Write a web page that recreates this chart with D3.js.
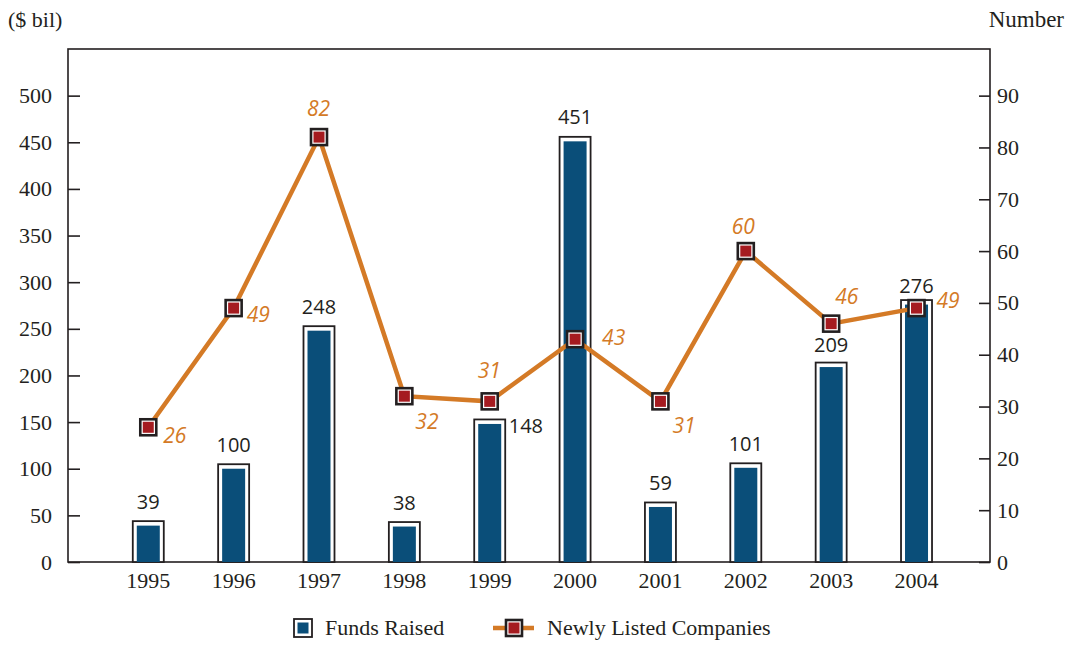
<!DOCTYPE html>
<html><head><meta charset="utf-8">
<script src="https://cdn.jsdelivr.net/npm/d3@7"></script>
<style>
html,body{margin:0;padding:0;background:#fff;}
svg{display:block;}
</style></head>
<body>
<svg id="chart" width="1069" height="645"></svg>
<script>
// ---- data ----
const years = ["1995","1996","1997","1998","1999","2000","2001","2002","2003","2004"];
const fundsRaised = [39, 100, 248, 38, 148, 451, 59, 101, 209, 276];
const newlyListed = [26, 49, 82, 32, 31, 43, 31, 60, 46, 49];
const leftTicks = [0, 50, 100, 150, 200, 250, 300, 350, 400, 450, 500];
const rightTicks = [0, 10, 20, 30, 40, 50, 60, 70, 80, 90];
const leftTitle = "($ bil)";
const rightTitle = "Number";
const seriesNames = ["Funds Raised", "Newly Listed Companies"];

// ---- layout (label placement offsets, px) ----
const barLabelLayout = [
  {a:"middle",dx:0,dy:-17},{a:"middle",dx:0,dy:-17},{a:"middle",dx:0,dy:-17},
  {a:"middle",dx:0,dy:-17},{a:"start",dx:19,dy:9},{a:"middle",dx:0,dy:-17},
  {a:"middle",dx:0,dy:-17},{a:"middle",dx:0,dy:-17},{a:"middle",dx:0,dy:-15},
  {a:"middle",dx:0,dy:-12}
];
const lineLabelLayout = [
  [15,16],[13,14],[-12,-21],[11,33],[-12,-23],[27,6],[12,32],[-14,-17],[4,-20],[20,0]
];

const BLUE = "#0a4e79", RED = "#a51b20", ORANGE = "#d47a26", INK = "#231f20";
const SERIF = "'Liberation Serif','DejaVu Serif',serif";
const SANS = "'Open Sans','Noto Sans',sans-serif";
const SERIF_SIZE = 22;

const svg = d3.select("#chart");
const L = 68, R = 990, T = 49, B = 562;

const x = d3.scaleBand().domain(years).range([105.6, 959.2]);
const cx = d => x(d) + x.bandwidth() / 2;
const yL = d3.scaleLinear().domain([0, 550]).range([B, T]);
const yR = d3.scaleLinear().domain([0, 99]).range([B, T]);

// axes
const gL = svg.append("g").attr("transform", `translate(${L},0)`)
  .call(d3.axisLeft(yL).tickValues(leftTicks).tickSizeInner(-12).tickSizeOuter(0).tickPadding(16));
const gR = svg.append("g").attr("transform", `translate(${R},0)`)
  .call(d3.axisRight(yR).tickValues(rightTicks).tickSizeInner(-11).tickSizeOuter(0).tickPadding(7));
[gL, gR].forEach(g => {
  g.select(".domain").remove();
  g.selectAll(".tick line").attr("stroke", INK).attr("stroke-width", 1.6);
  g.selectAll(".tick text").attr("fill", INK).attr("font-family", SERIF).attr("font-size", SERIF_SIZE);
});
const gX = svg.append("g").attr("transform", `translate(0,${B})`)
  .call(d3.axisBottom(x).tickSize(0));
gX.select(".domain").remove();
gX.selectAll(".tick text").attr("fill", INK).attr("font-family", SERIF).attr("font-size", SERIF_SIZE)
  .attr("y", 26).attr("dy", null);

// frame
svg.append("rect").attr("x", L).attr("y", T).attr("width", R - L).attr("height", B - T)
  .attr("fill", "none").attr("stroke", INK).attr("stroke-width", 1.6);

// axis titles
svg.append("text").attr("x", 8).attr("y", 27).attr("font-family", SERIF).attr("font-size", SERIF_SIZE).attr("fill", INK).text(leftTitle);
svg.append("text").attr("x", 1064).attr("y", 27).attr("text-anchor", "end").attr("font-family", SERIF).attr("font-size", SERIF_SIZE + 1).attr("fill", INK).text(rightTitle);

// bars
const OUTW = 31, INW = 23, PAD = 4.5;
const bars = svg.append("g");
years.forEach((yr, i) => {
  const v = fundsRaised[i];
  bars.append("rect").attr("x", cx(yr) - OUTW / 2).attr("y", yL(v) - PAD)
    .attr("width", OUTW).attr("height", B - yL(v) + PAD)
    .attr("fill", "#fff").attr("stroke", INK).attr("stroke-width", 1.8);
  bars.append("rect").attr("x", cx(yr) - INW / 2).attr("y", yL(v))
    .attr("width", INW).attr("height", B - yL(v)).attr("fill", BLUE);
  const lay = barLabelLayout[i];
  bars.append("text").attr("x", cx(yr) + lay.dx).attr("y", yL(v) + lay.dy)
    .attr("text-anchor", lay.a).attr("font-family", SANS).attr("font-size", 20).attr("fill", INK).text(v);
});

// line
const line = d3.line().x((d, i) => cx(years[i])).y(d => yR(d));
svg.append("path").datum(newlyListed).attr("d", line).attr("fill", "none")
  .attr("stroke", ORANGE).attr("stroke-width", 4.5).attr("stroke-linejoin", "miter");

function marker(g, mx, my) {
  g.append("rect").attr("x", mx - 8).attr("y", my - 8).attr("width", 16).attr("height", 16)
    .attr("fill", "#fff").attr("stroke", INK).attr("stroke-width", 2.6);
  g.append("rect").attr("x", mx - 5.5).attr("y", my - 5.5).attr("width", 11).attr("height", 11).attr("fill", RED);
}
const mk = svg.append("g");
newlyListed.forEach((v, i) => {
  marker(mk, cx(years[i]), yR(v));
  const [dx, dy] = lineLabelLayout[i];
  mk.append("text").attr("x", cx(years[i]) + dx).attr("y", yR(v) + dy)
    .attr("font-family", SANS).attr("font-style", "italic").attr("font-size", 21)
    .attr("fill", ORANGE).text(v);
});

// legend
const lg = svg.append("g");
lg.append("rect").attr("x", 294).attr("y", 619).attr("width", 18).attr("height", 18)
  .attr("fill", "#fff").attr("stroke", INK).attr("stroke-width", 1.8);
lg.append("rect").attr("x", 297.5).attr("y", 622.5).attr("width", 11).attr("height", 11).attr("fill", BLUE);
lg.append("text").attr("x", 325).attr("y", 635).attr("font-family", SERIF).attr("font-size", SERIF_SIZE).attr("fill", INK).text(seriesNames[0]);
lg.append("line").attr("x1", 493).attr("x2", 534).attr("y1", 628).attr("y2", 628).attr("stroke", ORANGE).attr("stroke-width", 4.5);
marker(lg, 514, 628);
lg.append("text").attr("x", 547).attr("y", 635).attr("font-family", SERIF).attr("font-size", SERIF_SIZE).attr("fill", INK).text(seriesNames[1]);
</script>
</body></html>
